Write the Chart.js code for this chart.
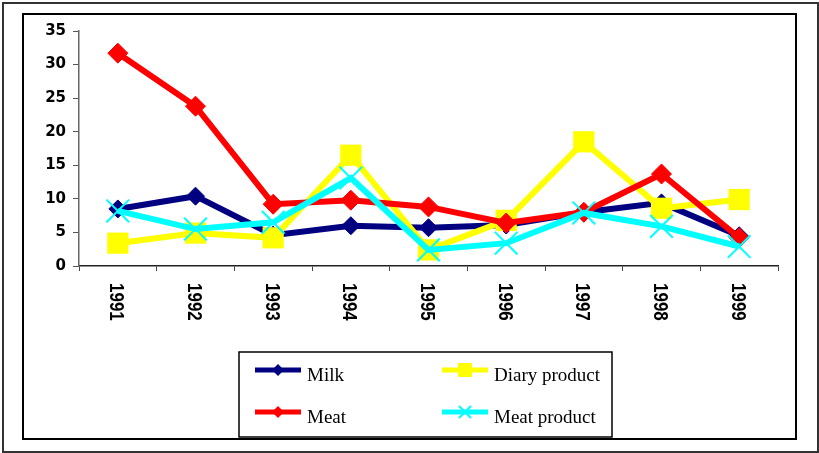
<!DOCTYPE html>
<html>
<head>
<meta charset="utf-8">
<script src="https://cdn.jsdelivr.net/npm/chart.js@4/dist/chart.umd.min.js"></script>
<style>
  html, body { margin: 0; padding: 0; background: #fff; }
  #wrap { width: 819px; height: 453px; position: relative; }
</style>
</head>
<body>
<div id="wrap"><canvas id="chart" width="819" height="453"></canvas></div>
<script>
const years = ['1991', '1992', '1993', '1994', '1995', '1996', '1997', '1998', '1999'];
const milk = [8.5, 10.4, 4.6, 6.0, 5.7, 6.1, 8.0, 9.4, 4.5];
const diary = [3.4, 4.9, 4.2, 16.5, 2.4, 6.8, 18.5, 8.6, 9.9];
const meat = [31.7, 23.8, 9.2, 9.8, 8.8, 6.4, 8.0, 13.7, 4.2];
const meatProduct = [8.2, 5.5, 6.5, 13.1, 2.4, 3.4, 7.9, 5.9, 2.9];
const yTicks = [0, 5, 10, 15, 20, 25, 30, 35];

const yearFont = 'bold 17px "Liberation Sans"';
const legendFont = '19px "Liberation Serif"';

// frames round the whole picture and the plot box
const framePlugin = {
    id: 'frames',
    beforeDraw(chart) {
        const ctx = chart.ctx;
        ctx.save();
        ctx.fillStyle = '#fff';
        ctx.fillRect(0, 0, chart.width, chart.height);
        ctx.strokeStyle = '#333';
        ctx.lineWidth = 2;
        ctx.strokeRect(3, 3, 815, 449);
        ctx.strokeStyle = '#000';
        ctx.lineWidth = 2;
        ctx.strokeRect(23, 14, 773, 425);
        ctx.restore();
    }
};

// year labels read top to bottom, placed from the category scale
const yearLabels = {
    id: 'yearLabels',
    afterDraw(chart) {
        const ctx = chart.ctx;
        const xs = chart.scales.x;
        ctx.save();
        ctx.font = yearFont;
        ctx.fillStyle = '#000';
        ctx.textAlign = 'left';
        ctx.textBaseline = 'middle';
        years.forEach((y, i) => {
            const px = xs.getPixelForTick(i);
            ctx.save();
            ctx.translate(px - 2, chart.chartArea.bottom + 17);
            ctx.rotate(Math.PI / 2);
            ctx.scale(1, 1.15);
            ctx.fillText(y, 0, 0);
            ctx.restore();
        });
        ctx.restore();
    }
};

function marker(ctx, style, x, y, r, color) {
    ctx.fillStyle = color;
    ctx.strokeStyle = color;
    ctx.beginPath();
    if (style === 'rectRot') {
        ctx.moveTo(x, y - r);
        ctx.lineTo(x + r, y);
        ctx.lineTo(x, y + r);
        ctx.lineTo(x - r, y);
        ctx.closePath();
        ctx.fill();
    } else if (style === 'rect') {
        ctx.fillRect(x - r, y - r, 2 * r, 2 * r);
    } else {
        ctx.lineWidth = 2;
        ctx.moveTo(x - r, y - r);
        ctx.lineTo(x + r, y + r);
        ctx.moveTo(x + r, y - r);
        ctx.lineTo(x - r, y + r);
        ctx.stroke();
    }
}

// boxed 2 x 2 legend under the axis
const boxLegend = {
    id: 'boxLegend',
    afterDraw(chart) {
        const ctx = chart.ctx;
        ctx.save();
        ctx.strokeStyle = '#000';
        ctx.lineWidth = 1.5;
        ctx.strokeRect(239, 352, 373, 85);
        const cols = [255, 442];
        const rows = [370, 412];
        const sizes = { rectRot: 6, rect: 7, crossRot: 6 };
        chart.data.datasets.forEach((ds, i) => {
            const x = cols[i % 2];
            const y = rows[Math.floor(i / 2)];
            ctx.fillStyle = ds.borderColor;
            ctx.fillRect(x, y - 2.5, 46, 5);
            marker(ctx, ds.pointStyle, x + 23, y, sizes[ds.pointStyle], ds.borderColor);
            ctx.font = legendFont;
            ctx.fillStyle = '#000';
            ctx.textAlign = 'left';
            ctx.textBaseline = 'alphabetic';
            ctx.fillText(ds.label, x + 52, y + 11);
        });
        ctx.restore();
    }
};

new Chart(document.getElementById('chart'), {
    type: 'line',
    data: {
        labels: years,
        datasets: [{
            label: 'Milk',
            data: milk,
            borderColor: '#000080',
            backgroundColor: '#000080',
            pointStyle: 'rectRot',
            pointRadius: 9,
            pointBorderWidth: 1,
            order: 3
        }, {
            label: 'Diary product',
            data: diary,
            borderColor: '#ffff00',
            backgroundColor: '#ffff00',
            pointStyle: 'rect',
            pointRadius: 15,
            pointBorderWidth: 0,
            order: 2
        }, {
            label: 'Meat',
            data: meat,
            borderColor: '#ff0000',
            backgroundColor: '#ff0000',
            pointStyle: 'rectRot',
            pointRadius: 10,
            pointBorderWidth: 1,
            order: 1
        }, {
            label: 'Meat product',
            data: meatProduct,
            borderColor: '#00ffff',
            backgroundColor: '#00ffff',
            pointStyle: 'crossRot',
            pointRadius: 16,
            pointBorderWidth: 2,
            order: 0
        }]
    },
    options: {
        responsive: false,
        animation: false,
        layout: {
            padding: { left: 23, right: 41, top: 31, bottom: 100 }
        },
        plugins: {
            legend: { display: false },
            tooltip: { enabled: false }
        },
        elements: {
            line: { borderWidth: 6, tension: 0 },
            point: { hoverRadius: 0 }
        },
        scales: {
            x: {
                type: 'category',
                offset: true,
                afterFit: (scale) => { scale.height = 87; },
                grid: {
                    offset: true,
                    drawOnChartArea: false,
                    tickLength: 5,
                    color: '#444'
                },
                border: { color: '#222', width: 1.5 },
                ticks: { display: false }
            },
            y: {
                min: 0,
                max: 35,
                afterFit: (scale) => { scale.width = 56; },
                afterBuildTicks: (scale) => { scale.ticks = yTicks.map(v => ({ value: v })); },
                grid: {
                    drawOnChartArea: false,
                    tickLength: 6,
                    color: '#555'
                },
                border: { color: '#666', width: 1.5 },
                ticks: {
                    color: '#000',
                    padding: 7,
                    font: { family: 'DejaVu Sans', size: 15, weight: 'bold' }
                }
            }
        }
    },
    plugins: [framePlugin, yearLabels, boxLegend]
});
</script>
</body>
</html>
